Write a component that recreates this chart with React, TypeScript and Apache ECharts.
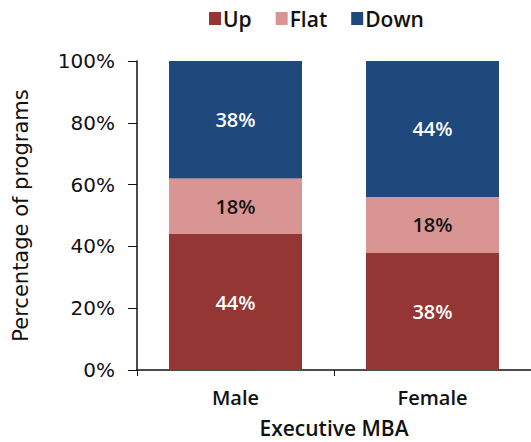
import React, { useEffect, useRef } from "react";
import * as echarts from "echarts";

const categories = ["Male", "Female"];
const upValues = [44, 38];
const flatValues = [18, 18];
const downValues = [38, 44];
const yTicks = [0, 20, 40, 60, 80, 100];

const FONT = "DejaVu Sans";
const MED = "Open Sans";

export default function App() {
  const ref = useRef<HTMLDivElement>(null);
  useEffect(() => {
    if (!ref.current) return;
    const chart = echarts.init(ref.current, null, { renderer: "svg" });
    const label = {
      show: true,
      position: "inside",
      color: "#ffffff",
      fontFamily: MED,
      fontWeight: 600,
      fontSize: 20,
      formatter: (p: any) => p.value + "%",
    };
    chart.setOption({
      animation: false,
      textStyle: { fontFamily: FONT },
      legend: {
        top: 3,
        left: 204,
        itemWidth: 12,
        itemHeight: 13,
        itemGap: 24,
        icon: "rect",
        textStyle: { fontFamily: MED, fontWeight: 600, fontSize: 21, color: "#111", padding: [0, 0, 0, -3] },
        data: ["Up", "Flat", "Down"],
      },
      grid: { left: 137, top: 61, right: 0, bottom: 72, containLabel: false, outerBoundsMode: "none" },
      xAxis: {
        type: "category",
        data: categories,
        name: "Executive MBA",
        nameLocation: "middle",
        nameGap: 46,
        nameTextStyle: { fontFamily: MED, fontWeight: 600, fontSize: 21, color: "#111", lineHeight: 24 },
        axisLine: { lineStyle: { color: "#111", width: 1.5 } },
        axisTick: { show: true, alignWithLabel: false, length: 6, lineStyle: { color: "#111" } },
        axisLabel: { fontFamily: MED, fontWeight: 600, fontSize: 20, color: "#111", margin: 17 },
      },
      yAxis: {
        type: "value",
        min: 0,
        max: 100,
        interval: 20,
        name: "Percentage of programs",
        nameLocation: "middle",
        nameGap: 106,
        nameTextStyle: { fontFamily: FONT, fontSize: 21, color: "#111" },
        axisLine: { show: true, lineStyle: { color: "#111", width: 1.5 } },
        axisTick: { show: true, length: 9, inside: false, lineStyle: { color: "#111" } },
        splitLine: { show: false },
        axisLabel: {
          fontFamily: FONT,
          fontSize: 20,
          color: "#111",
          margin: 22,
          formatter: (v: number) => (yTicks.includes(v) ? v + "%" : ""),
        },
      },
      series: [
        { name: "Up", type: "bar", stack: "t", data: upValues, barWidth: 133, itemStyle: { color: "#943634" }, label },
        { name: "Flat", type: "bar", stack: "t", data: flatValues, barWidth: 133, itemStyle: { color: "#D99594" }, label: { ...label, color: "#111" } },
        { name: "Down", type: "bar", stack: "t", data: downValues, barWidth: 133, itemStyle: { color: "#1F497D" }, label },
      ],
    });
    return () => chart.dispose();
  }, []);
  return <div ref={ref} style={{ width: 531, height: 442, position: "absolute", left: 0, top: 0 }} />;
}
